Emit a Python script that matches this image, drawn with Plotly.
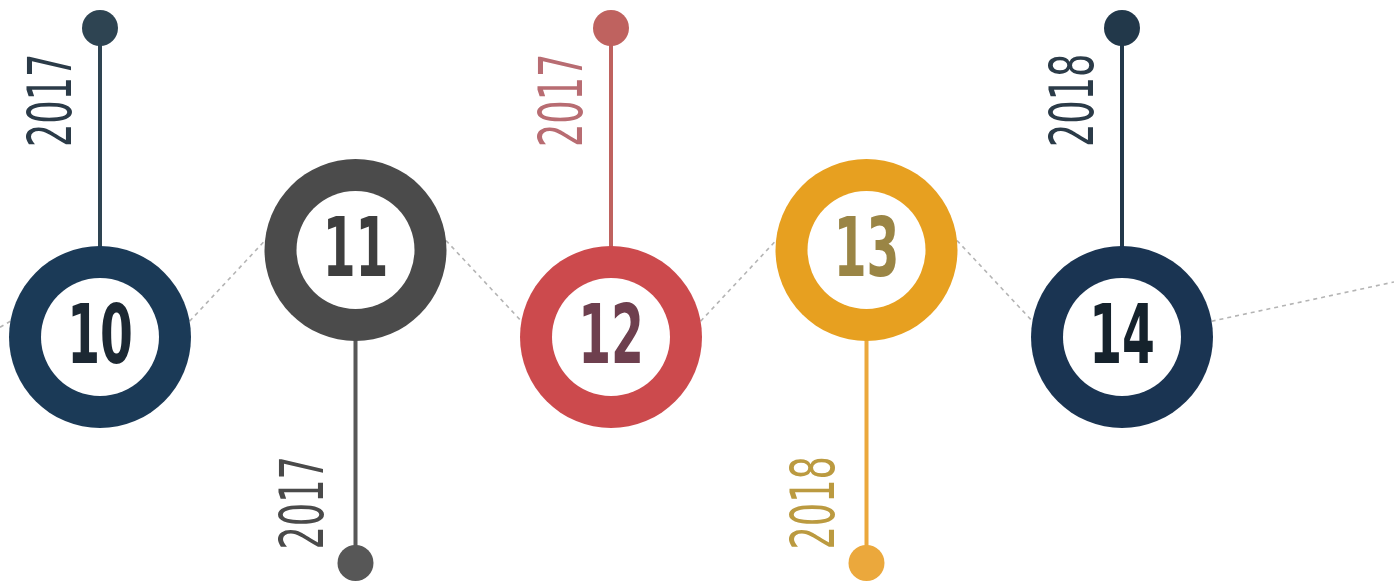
import math
import plotly.graph_objects as go

# ---- data ----
labels = ["10", "11", "12", "13", "14"]
years = ["2017", "2017", "2017", "2018", "2018"]
levels = ["low", "high", "low", "high", "low"]

# ---- styles ----
ring_colors = ["#1b3a57", "#4b4b4b", "#cc4a4d", "#e7a020", "#1a3452"]
stem_colors = ["#2e4452", "#575757", "#bf625f", "#eba83c", "#22384a"]
year_colors = ["#2b3b48", "#4a4a4a", "#b86c72", "#bb9a40", "#2b3b48"]
num_colors = ["#1c2833", "#3e3e3e", "#6e3f4e", "#9a8545", "#15222c"]

W, H = 1394, 582
X0_PX, STEP_PX = 100, 255.5          # pixel position of index 0 and spacing
LEVEL_Y = {"low": 337, "high": 250}  # circle centre heights (px from top)
PIN_Y = {"low": 28, "high": 563}     # pin positions for each level
EDGE_ANGLE = {"low": 10, "high": 6}  # connector attachment angle (deg)
R_OUT, R_IN, R_PIN = 91, 59, 18
TEXT_DY = 6                          # optical centring of the numbers

FONT = "DejaVu Sans Condensed, DejaVu Sans, sans-serif"


def px_to_x(px):
    return (px - X0_PX) / STEP_PX


n = len(labels)
idx = list(range(n))
cy = [LEVEL_Y[l] for l in levels]
pin_y = [PIN_Y[l] for l in levels]

fig = go.Figure()


def edge(i, side):
    a = math.radians(EDGE_ANGLE[levels[i]])
    cx_px = X0_PX + STEP_PX * i
    return cx_px + side * R_OUT * math.cos(a), cy[i] - R_OUT * math.sin(a)


# dotted connectors
segments = []
lx, ly = edge(0, -1)
segments.append(((0, ly + 6), (lx, ly)))
for i in range(n - 1):
    segments.append((edge(i, 1), edge(i + 1, -1)))
rx, ry = edge(n - 1, 1)
segments.append(((rx, ry), (W, 282)))
for (xa, ya), (xb, yb) in segments:
    fig.add_trace(go.Scatter(
        x=[px_to_x(xa), px_to_x(xb)], y=[ya, yb], mode="lines",
        line=dict(color="#b4b4b4", width=1.6, dash="4px,4px"),
        hoverinfo="skip"))

# stems
for i in idx:
    fig.add_trace(go.Scatter(
        x=[i, i], y=[cy[i], pin_y[i]], mode="lines",
        line=dict(color=stem_colors[i], width=4), hoverinfo="skip"))

# pins
fig.add_trace(go.Scatter(
    x=idx, y=pin_y, mode="markers",
    marker=dict(size=2 * R_PIN, color=stem_colors, line=dict(width=0)),
    hoverinfo="skip"))

# rings
fig.add_trace(go.Scatter(
    x=idx, y=cy, mode="markers",
    marker=dict(size=2 * R_OUT, color=ring_colors, line=dict(width=0)),
    hoverinfo="skip"))
fig.add_trace(go.Scatter(
    x=idx, y=cy, mode="markers",
    marker=dict(size=2 * R_IN, color="#ffffff", line=dict(width=0)),
    hoverinfo="skip"))

# numbers
fig.add_trace(go.Scatter(
    x=idx, y=[c + TEXT_DY for c in cy], mode="text", text=labels,
    textposition="middle center",
    textfont=dict(family=FONT, size=82, color=num_colors, weight="bold"),
    hoverinfo="skip"))

# year labels (rotated)
for i in idx:
    if levels[i] == "low":
        ty = 101
        tx = i - 50 / STEP_PX
    else:
        ty = 503
        tx = i - 53 / STEP_PX
    fig.add_annotation(
        x=tx, y=ty, text=years[i], textangle=-90, showarrow=False,
        font=dict(family=FONT, size=60, color=year_colors[i]),
        xanchor="center", yanchor="middle")

fig.update_layout(
    width=W, height=H, margin=dict(l=0, r=0, t=0, b=0),
    paper_bgcolor="white", plot_bgcolor="white", showlegend=False,
    xaxis=dict(range=[px_to_x(0), px_to_x(W)], visible=False, fixedrange=True),
    yaxis=dict(range=[H, 0], visible=False, fixedrange=True),
)

post = """
document.body.style.margin='0';
document.body.style.overflow='hidden';
var gd = document.getElementById('{plot_id}');
function squeeze(){
  gd.querySelectorAll('g.textpoint text').forEach(function(t){
    t.style.transformBox='fill-box'; t.style.transformOrigin='center';
    t.style.transform='scaleX(0.64)';
  });
  gd.querySelectorAll('text.annotation-text').forEach(function(t){
    t.style.transformBox='fill-box'; t.style.transformOrigin='center';
    t.style.transform='scaleX(0.68)';
  });
}
squeeze();
gd.on('plotly_afterplot', squeeze);
"""

fig.write_html("out.html", config={"displayModeBar": False}, post_script=post)
